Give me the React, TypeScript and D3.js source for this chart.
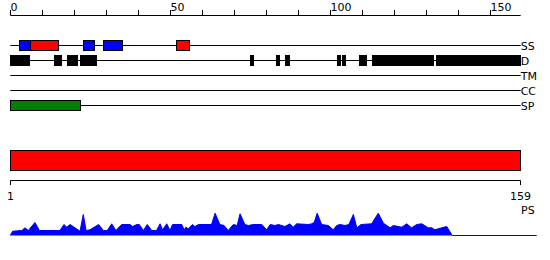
import React from "react";
import * as d3 from "d3";

// ---- data ----
const topTicks = [0, 10, 20, 30, 40, 50, 60, 70, 80, 90, 100, 110, 120, 130, 140, 150];
const topLabels = [0, 50, 100, 150];
const seqLength = 159.5;
const trackNames = ["SS", "D", "TM", "CC", "SP"];

// secondary structure: [start, end, type]
const ssStarts = [2.8, 6.2, 22.8, 29.1, 51.9];
const ssEnds = [6.2, 15.1, 26.1, 35.1, 56.0];
const ssTypes = ["strand", "helix", "strand", "strand", "helix"];

// disorder segments
const dStarts = [0, 13.7, 17.7, 21.8, 75, 83, 85.9, 102.2, 103.8, 109, 113, 132.9];
const dEnds = [6.2, 16.2, 21.2, 27.1, 76.2, 84.2, 87.4, 103.3, 104.9, 111.5, 132.3, 159.5];

// signal peptide
const spStarts = [0];
const spEnds = [22];

// domain bar
const domainStart = 1;
const domainEnd = 159;

// PS profile
const psPos = [0, 0.75, 3.6, 4.6, 5.6, 7.7, 9.1, 15.5, 16.8, 17.6, 18.7, 21.8, 22.8, 23.7, 24.9, 27.6, 29.1, 30.3, 31.7, 33, 34.8, 37.4, 38.2, 39.5, 40.3, 41.6, 42.8, 44.2, 45.7, 46.8, 47.6, 48.9, 49.9, 50.7, 53.6, 54.3, 54.9, 55.6, 56.9, 57.7, 58.8, 62.9, 64, 65.5, 66.8, 68.1, 69.7, 70.9, 71.8, 73.3, 74.4, 75.9, 78.6, 80.1, 81.2, 82.7, 83.8, 85.8, 87.4, 88.4, 89.5, 93.1, 94.2, 95, 95.9, 97.3, 99.4, 100.9, 102, 103, 104.6, 105.8, 107.2, 108.3, 109.6, 112.9, 115, 116.6, 118.7, 119.7, 122.3, 123.9, 125.4, 127, 128.6, 130.6, 131.7, 132.7, 134.8, 136.4, 138.1, 164.5];
const psVal = [0, 4.3, 5, 7.7, 5, 13, 5, 5, 11, 8.3, 11, 4.3, 21, 5, 5.7, 11, 5, 5, 11.7, 5, 11, 11, 9, 11, 11, 5, 11, 5, 5, 11.7, 5.7, 11.7, 5, 11, 11, 5.7, 8.3, 6.7, 11, 9, 11, 11, 22.3, 11, 10, 5, 11, 10, 21.7, 11, 10, 11, 11, 5.7, 11, 10, 11, 9, 11.7, 8.3, 11.7, 11, 11.7, 13.3, 22.3, 11, 10, 5.7, 10, 11, 10, 11, 21, 7.7, 11, 11.7, 22.3, 12.3, 7.7, 10, 8.3, 11.7, 7.7, 11, 11.7, 7.7, 7.7, 5.7, 7.7, 9, 0, 0];

const ssColor: Record<string, string> = { helix: "#ff0000", strand: "#0000ff" };

export default function App() {
  const x = d3.scaleLinear().domain([0, seqLength]).range([10.3, 520.7]);
  const xb = d3.scaleLinear().domain([domainStart, domainEnd]).range([10.5, 520.5]);
  const trackY = d3.scalePoint<string>().domain(trackNames).range([45.5, 105.5]);
  const yPs = d3.scaleLinear().domain([0, 25]).range([235.5, 210.5]);
  const font = "DejaVu Sans, sans-serif";
  const lineEnd = x(seqLength);

  const psData = psPos.map((p, i) => [p, psVal[i]] as [number, number]);
  const area = d3.area<[number, number]>().x((d) => x(d[0])).y0(yPs(0)).y1((d) => yPs(d[1]));
  const line = d3.line<[number, number]>().x((d) => x(d[0])).y((d) => yPs(d[1]));

  const boxH = 10;
  return (
    <svg width={550} height={260} style={{ position: "absolute", left: 0, top: 0 }} fontFamily={font} fontSize={11}>
      {/* top axis */}
      <line x1={x(0)} x2={lineEnd} y1={15.5} y2={15.5} stroke="#000" />
      {topTicks.map((t) => (
        <line key={t} x1={Math.round(x(t)) + 0.5} x2={Math.round(x(t)) + 0.5} y1={10} y2={15} stroke="#000" />
      ))}
      {topLabels.map((t) => (
        <text key={t} x={Math.round(x(t)) + 0.5} y={11} textAnchor="start">{t}</text>
      ))}

      {/* track lines */}
      {trackNames.map((n) => (
        <g key={n}>
          <line x1={x(0)} x2={lineEnd} y1={trackY(n)} y2={trackY(n)} stroke="#000" />
          <text x={lineEnd} y={(trackY(n) as number) + 4}>{n}</text>
        </g>
      ))}

      {/* SS */}
      {ssStarts.map((s, i) => (
        <rect key={i} x={Math.round(x(s)) + 0.5} y={(trackY("SS") as number) - 5} width={Math.round(x(ssEnds[i]) - x(s))} height={boxH}
          fill={ssColor[ssTypes[i]]} stroke="#000" />
      ))}
      {/* D */}
      {dStarts.map((s, i) => (
        <rect key={i} x={Math.round(x(s))} y={(trackY("D") as number) - 5.5} width={Math.max(1, Math.round(x(dEnds[i]) - x(s)))} height={boxH + 1}
          fill="#000" />
      ))}
      {/* SP */}
      {spStarts.map((s, i) => (
        <rect key={i} x={Math.round(x(s)) + 0.5} y={(trackY("SP") as number) - 5} width={Math.round(x(spEnds[i]) - x(s))} height={boxH}
          fill="#008000" stroke="#000" />
      ))}

      {/* domain bar */}
      <rect x={xb(domainStart)} y={150.5} width={xb(domainEnd) - xb(domainStart)} height={20} fill="#ff0000" stroke="#000" />
      {/* bottom axis */}
      <line x1={xb(domainStart)} x2={xb(domainEnd)} y1={180.5} y2={180.5} stroke="#000" />
      {[domainStart, domainEnd].map((t) => (
        <g key={t}>
          <line x1={xb(t)} x2={xb(t)} y1={180.5} y2={185} stroke="#000" />
          <text x={xb(t)} y={200} textAnchor="middle">{t}</text>
        </g>
      ))}
      <text x={521} y={214}>PS</text>

      {/* PS profile */}
      <path d={area(psData) || ""} fill="#0000ff" />
      <path d={line(psData) || ""} fill="none" stroke="#0000ff" strokeWidth={1} />
    </svg>
  );
}
